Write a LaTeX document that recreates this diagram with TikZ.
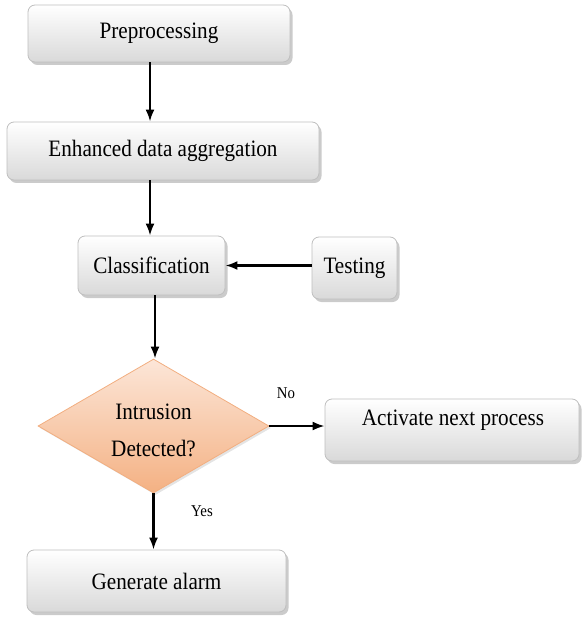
\documentclass[tikz,border=0pt]{standalone}
\usepackage{fontspec}
\setmainfont[FakeStretch=0.9]{Liberation Serif}
\usetikzlibrary{shapes.geometric,shadows,arrows.meta}
\definecolor{boxline}{HTML}{BFBFBF}
\definecolor{boxbot}{HTML}{D9D9D9}
\definecolor{diatop}{HTML}{FCE6D8}
\definecolor{diabot}{HTML}{F4B183}
\definecolor{dialine}{HTML}{F2AE80}
\tikzset{
  procbox/.style={draw=boxline, line width=0.8pt, rounded corners=7pt,
    top color=white, bottom color=boxbot,
    drop shadow={shadow xshift=2.5pt, shadow yshift=-3pt, fill=black!45, opacity=0.45},
    inner sep=0pt, font=\fontsize{23.5}{26}\selectfont},
  decision/.style={diamond, draw=dialine, line width=0.8pt,
    top color=diatop, bottom color=diabot, inner sep=0pt,
    drop shadow={shadow xshift=2pt, shadow yshift=-2pt, fill=black!30, opacity=0.35}},
  flow/.style={line width=2.2pt, -{Latex[length=12pt,width=9pt]}},
  lbl/.style={font=\fontsize{16.5}{18}\selectfont, inner sep=0pt},
  txt/.style={font=\fontsize{23.5}{26}\selectfont, inner sep=0pt, align=center}
}
\begin{document}
\begin{tikzpicture}[x=1pt,y=-1pt]
\useasboundingbox (0,0) rectangle (582,620);
\node[procbox, minimum width=262pt, minimum height=57pt] (pre) at (159,33.5) {Preprocessing};
\node[procbox, minimum width=312pt, minimum height=58pt] (enh) at (163,151) {Enhanced data aggregation};
\node[procbox, minimum width=147pt, minimum height=59pt] (cls) at (151.5,265.5) {Classification};
\node[procbox, minimum width=85pt, minimum height=62pt] (tst) at (354.5,268) {Testing};
\node[decision, minimum width=231pt, minimum height=134pt] (dia) at (153.5,426) {};
\node[txt] (diat) at (153.5,430) {Intrusion\\[11pt]Detected?};
\node[procbox, minimum width=254pt, minimum height=62pt] (act) at (452,430) {};
\node[txt] (actt) at (453,420) {Activate next process};
\node[procbox, minimum width=259pt, minimum height=62pt] (gen) at (156.5,581) {Generate alarm};
\node[lbl] (no) at (286,393) {No};
\node[lbl] (yes) at (202,511) {Yes};
\draw[flow] ([xshift=-9pt]pre.south) -- ([xshift=-9pt]pre.south |- enh.north);
\draw[flow] ([xshift=-13pt]enh.south) -- ([xshift=-13pt]enh.south |- cls.north);
\draw[flow] (tst.west |- cls.east) -- (cls.east);
\draw[flow] ([xshift=3.5pt]cls.south) -- ([xshift=3.5pt]cls.south |- dia.north);
\draw[flow] (dia.east) -- (dia.east -| act.west);
\draw[flow] (dia.south) -- (gen.north -| dia.south);
\end{tikzpicture}
\end{document}
